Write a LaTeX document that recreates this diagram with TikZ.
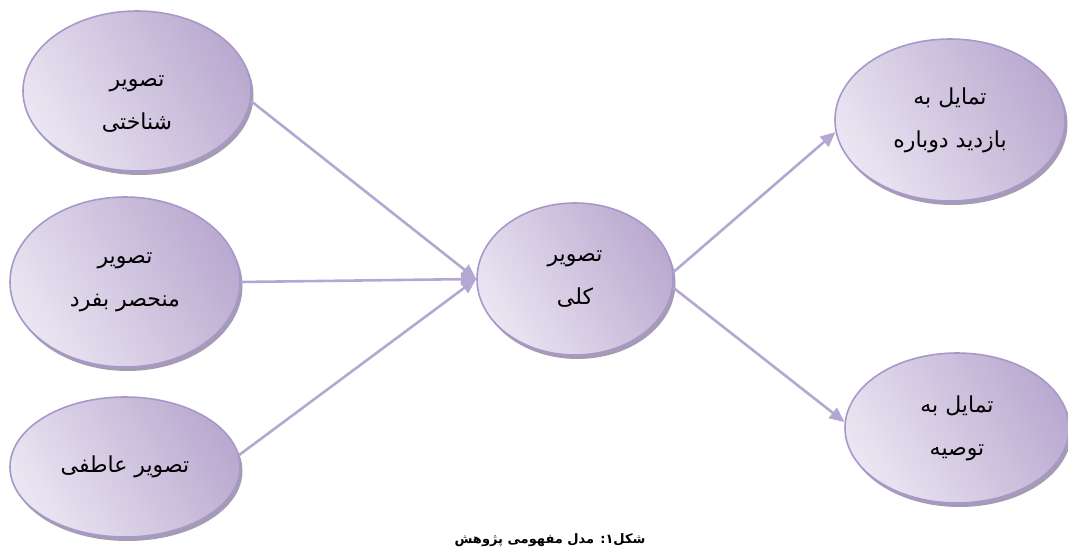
\documentclass[tikz,border=0pt]{standalone}
\usepackage{fontspec}
\setmainfont{DejaVu Sans}
\newfontfamily\arabicfont[Script=Arabic]{DejaVu Sans}
\TeXXeTstate=1
\usetikzlibrary{shapes.geometric,arrows.meta,shadows}
\definecolor{lavLight}{RGB}{234,229,242}
\definecolor{lavDark}{RGB}{186,170,208}
\definecolor{lavBorder}{RGB}{168,152,202}
\definecolor{lavArrow}{RGB}{180,167,210}
\definecolor{lavShadow}{RGB}{150,138,168}
\tikzset{
  bubble/.style={ellipse, draw=lavBorder, line width=1.6pt, inner sep=0pt,
    left color=lavLight, right color=lavDark, shading angle=120,
    drop shadow={shadow xshift=2.5pt, shadow yshift=-4pt, fill=lavShadow, opacity=0.85},
    font=\arabicfont\fontsize{22}{43}\selectfont, align=center, text=black},
  link/.style={draw=lavArrow, line width=2.6pt, -{Triangle[length=15pt,width=13pt]}},
}
\begin{document}
\begin{tikzpicture}[x=1pt,y=-1pt]
\useasboundingbox (0,0) rectangle (1068,548);
\node[bubble, minimum width=228pt, minimum height=160pt] (e1) at (137,91)
  {\rule{0pt}{36pt}\beginR تصویر\endR\\ \beginR شناختی\endR};
\node[bubble, minimum width=230pt, minimum height=170pt] (e2) at (125,282)
  {\beginR تصویر\endR\\ \beginR منحصر بفرد\endR};
\node[bubble, minimum width=230pt, minimum height=140pt] (e3) at (125,467)
  {\beginR تصویر عاطفی\endR};
\node[bubble, minimum width=196pt, minimum height=152pt] (c) at (575,279)
  {\beginR تصویر\endR\\ \beginR کلی\endR};
\node[bubble, minimum width=230pt, minimum height=162pt] (e4) at (950,120)
  {\beginR تمایل به\endR\\ \beginR بازدید دوباره\endR};
\node[bubble, minimum width=224pt, minimum height=150pt] (e5) at (957,428)
  {\beginR تمایل به\endR\\ \beginR توصیه\endR};
\draw[link] (e1.-5) -- (c.west);
\draw[link] (e2.east) -- (c.west);
\draw[link] (e3.6) -- (c.west);
\draw[link] (c.4) -- (e4.186);
\draw[link] (c.-5) -- (e5.177);
\node[font=\arabicfont\bfseries\fontsize{13}{16}\selectfont] (cap) at (550,540)
  {\beginR شکل۱: مدل مفهومی پژوهش\endR};
\end{tikzpicture}
\end{document}
